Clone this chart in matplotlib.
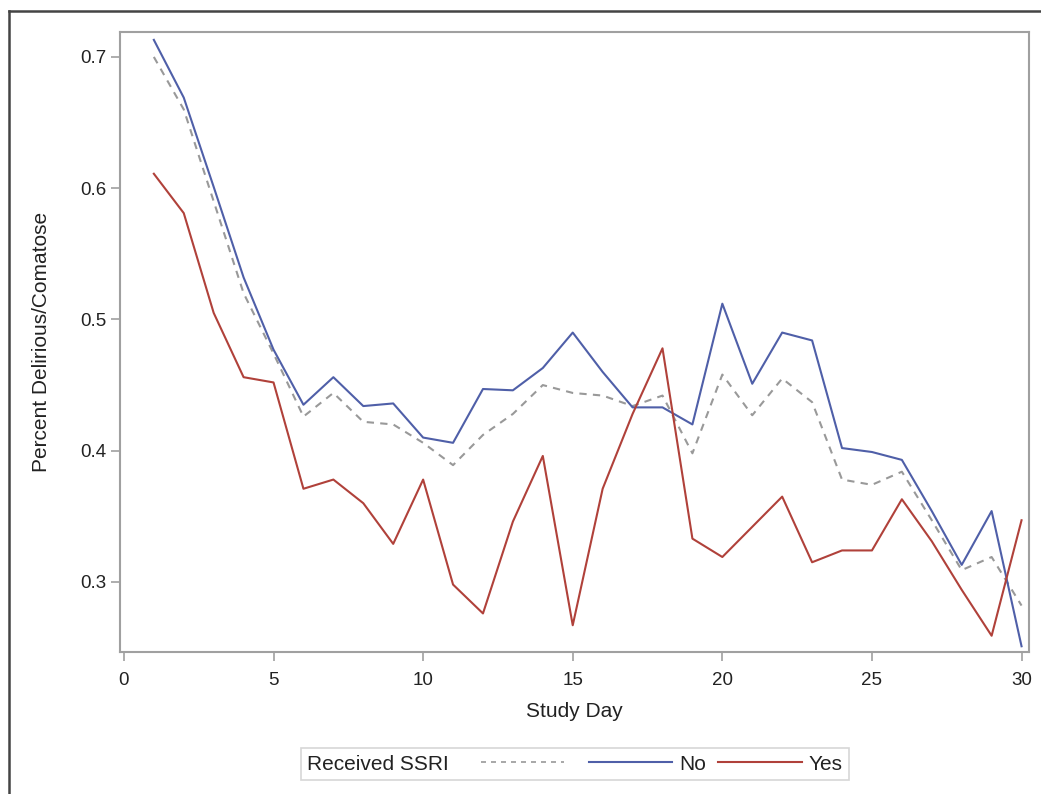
import matplotlib
matplotlib.use("Agg")
import matplotlib.pyplot as plt
from matplotlib.lines import Line2D
from matplotlib.offsetbox import HPacker

plt.rcParams['font.family'] = ['Liberation Sans', 'DejaVu Sans']

days = list(range(1, 31))
overall = [0.700, 0.660, 0.590, 0.520, 0.474, 0.426, 0.444, 0.422, 0.420, 0.406,
           0.389, 0.412, 0.428, 0.450, 0.444, 0.442, 0.434, 0.442, 0.398, 0.458,
           0.427, 0.455, 0.437, 0.378, 0.374, 0.384, 0.347, 0.309, 0.319, 0.282]
no_ssri = [0.713, 0.669, 0.601, 0.532, 0.477, 0.435, 0.456, 0.434, 0.436, 0.410,
           0.406, 0.447, 0.446, 0.463, 0.490, 0.460, 0.433, 0.433, 0.420, 0.512,
           0.451, 0.490, 0.484, 0.402, 0.399, 0.393, 0.354, 0.313, 0.354, 0.251]
yes_ssri = [0.611, 0.581, 0.505, 0.456, 0.452, 0.371, 0.378, 0.360, 0.329, 0.378,
            0.298, 0.276, 0.346, 0.396, 0.267, 0.371, 0.428, 0.478, 0.333, 0.319,
            0.342, 0.365, 0.315, 0.324, 0.324, 0.363, 0.331, 0.294, 0.259, 0.347]

x_ticks = [0, 5, 10, 15, 20, 25, 30]
y_ticks = [0.3, 0.4, 0.5, 0.6, 0.7]

BLUE = '#4f5fa8'
RED = '#b0413a'
GRAY = '#999999'
AXC = '#a0a0a0'
TXT = '#222222'

fig = plt.figure(figsize=(10.41, 7.94), dpi=100)
ax = fig.add_axes([0.1153, 0.1788, 0.9885 - 0.1153, 0.9597 - 0.1788])

ax.plot(days, overall, color=GRAY, lw=1.5, ls=(0, (3.5, 3)))
ax.plot(days, no_ssri, color=BLUE, lw=1.5)
ax.plot(days, yes_ssri, color=RED, lw=1.5)

ax.set_xlim(-0.13, 30.25)
ax.set_ylim(0.2466, 0.719)
ax.set_xticks(x_ticks)
ax.set_yticks(y_ticks)
ax.set_xticklabels([str(t) for t in x_ticks])
ax.set_yticklabels([f"{t:.1f}" for t in y_ticks])

for s in ax.spines.values():
    s.set_color(AXC)
    s.set_linewidth(1.5)
ax.tick_params(axis='both', direction='out', length=6.5, width=1.2, color=AXC,
               labelsize=13.5, labelcolor=TXT)
ax.tick_params(axis='x', pad=8)
ax.tick_params(axis='y', pad=3)

ax.set_xlabel('Study Day', fontsize=15, color=TXT)
ax.set_ylabel('Percent Delirious/Comatose', fontsize=15, color=TXT)
ax.xaxis.set_label_coords(0.5, -0.080)
ax.yaxis.set_label_coords(-0.076, 0.5)

handles = [Line2D([], [], color=GRAY, lw=1.2, ls=(0, (3, 3))),
           Line2D([], [], color=BLUE, lw=1.5),
           Line2D([], [], color=RED, lw=1.5)]
labels = [' ', 'No', 'Yes']
FS = 15
leg = fig.legend(handles, labels, loc='center', bbox_to_anchor=(575 / 1041, 1 - 764 / 794),
                 ncol=3, title='Received SSRI', title_fontsize=FS, fontsize=FS,
                 frameon=True, fancybox=False, edgecolor='#cccccc',
                 handlelength=4.0, handletextpad=0.34, columnspacing=0.58,
                 borderpad=0.3, borderaxespad=0)
leg.get_frame().set_linewidth(1.2)
leg._legend_box = HPacker(children=[leg._legend_title_box, leg._legend_handle_box],
                          align='center', pad=0.3 * FS, sep=23)
leg._legend_box.set_figure(fig)
leg._legend_box.set_offset(leg._findoffset)
leg.get_title().set_color(TXT)
for t in leg.get_texts():
    t.set_color(TXT)

# outer frame
fig.add_artist(Line2D([9 / 1041, 9 / 1041], [0, 1 - 11 / 794], transform=fig.transFigure,
                      color='#444444', lw=1.8))
fig.add_artist(Line2D([9 / 1041, 1], [1 - 11 / 794, 1 - 11 / 794], transform=fig.transFigure,
                      color='#444444', lw=1.8))

fig.savefig('out.png', dpi=100)
